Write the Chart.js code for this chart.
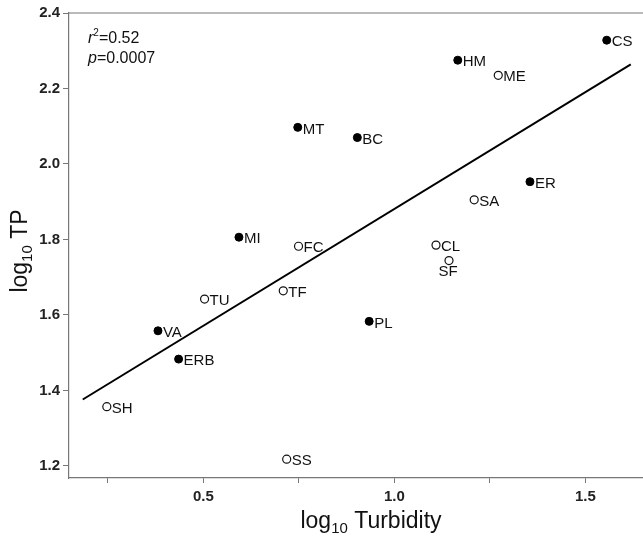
<!DOCTYPE html>
<html>
<head>
<meta charset="utf-8">
<title>log10 TP vs log10 Turbidity</title>
<script src="https://cdn.jsdelivr.net/npm/chart.js@4.4.1/dist/chart.umd.min.js"></script>
<style>
  html, body { margin: 0; padding: 0; background: #fff; }
  #wrap { width: 643px; height: 536px; position: relative; }
</style>
</head>
<body>
<div id="wrap"><canvas id="tpChart" width="643" height="536"></canvas></div>
<script>
// sites drawn as filled dots
const filledSites = ['CS', 'HM', 'ER', 'MT', 'BC', 'MI', 'PL', 'VA', 'ERB'];
const filledTurb  = [1.556, 1.166, 1.355, 0.747, 0.903, 0.593, 0.934, 0.381, 0.435];
const filledTP    = [2.328, 2.275, 1.953, 2.097, 2.070, 1.806, 1.583, 1.558, 1.483];

// sites drawn as open circles
const openSites = ['ME', 'SA', 'FC', 'CL', 'SF', 'TU', 'TF', 'SH', 'SS'];
const openTurb  = [1.272, 1.209, 0.749, 1.109, 1.143, 0.503, 0.709, 0.247, 0.718];
const openTP    = [2.235, 1.905, 1.782, 1.785, 1.744, 1.642, 1.664, 1.357, 1.218];

// regression line end points
const fitTurb = [0.184, 1.619];
const fitTP   = [1.376, 2.264];

// labels that sit under their marker instead of to the right
const labelsBelow = ['SF'];

const statLines = [['r', '=0.52'], ['p', '=0.0007']];

const xRange = [0.148, 1.651];
const yRange = [1.168, 2.4];
const xLabelTicks = [0.5, 1.0, 1.5];

const FONT = '"Liberation Sans", Arial, Helvetica, sans-serif';

function toPoints(xs, ys) {
    return xs.map((x, i) => ({ x: x, y: ys[i] }));
}

// draws "log" + subscript "10" + rest, centred on x
function drawLogText(ctx, rest, x, y, size) {
    const subSize = Math.round(size * 0.66);
    ctx.font = size + 'px ' + FONT;
    const w1 = ctx.measureText('log').width;
    const w3 = ctx.measureText(rest).width;
    ctx.font = subSize + 'px ' + FONT;
    const w2 = ctx.measureText('10').width;
    const total = w1 + w2 + w3;
    let cx = x - total / 2;
    ctx.textAlign = 'left';
    ctx.textBaseline = 'alphabetic';
    ctx.font = size + 'px ' + FONT;
    ctx.fillText('log', cx, y);
    cx += w1;
    ctx.font = subSize + 'px ' + FONT;
    ctx.fillText('10', cx, y + size * 0.2);
    cx += w2;
    ctx.font = size + 'px ' + FONT;
    ctx.fillText(rest, cx, y);
}

const siteLabels = {
    id: 'siteLabels',
    afterDatasetsDraw(chart) {
        const ctx = chart.ctx;
        ctx.save();
        ctx.fillStyle = '#111';
        ctx.font = '15px ' + FONT;
        [[0, filledSites], [1, openSites]].forEach(([idx, names]) => {
            chart.getDatasetMeta(idx).data.forEach((pt, j) => {
                const name = names[j];
                if (labelsBelow.includes(name)) {
                    ctx.textAlign = 'center';
                    ctx.textBaseline = 'middle';
                    ctx.fillText(name, pt.x - 1, pt.y + 11);
                } else {
                    ctx.textAlign = 'left';
                    ctx.textBaseline = 'middle';
                    ctx.fillText(name, pt.x + 5, pt.y + 2);
                }
            });
        });
        ctx.restore();
    }
};

const frameAndTitles = {
    id: 'frameAndTitles',
    afterDraw(chart) {
        const ctx = chart.ctx;
        const area = chart.chartArea;
        ctx.save();

        // top frame line
        ctx.strokeStyle = '#777';
        ctx.lineWidth = 1.2;
        ctx.beginPath();
        ctx.moveTo(area.left, area.top);
        ctx.lineTo(area.right, area.top);
        ctx.stroke();

        ctx.fillStyle = '#111';
        // x title
        drawLogText(ctx, ' Turbidity', (area.left + area.right) / 2 + 15, 528, 23);
        // y title
        ctx.save();
        ctx.translate(27, 251);
        ctx.rotate(-Math.PI / 2);
        drawLogText(ctx, ' TP', 0, 0, 23);
        ctx.restore();

        // r^2 and p values
        let y = area.top + 30;
        statLines.forEach(([v, rest], i) => {
            let x = area.left + 19;
            ctx.textAlign = 'left';
            ctx.textBaseline = 'alphabetic';
            ctx.font = 'italic 16px ' + FONT;
            ctx.fillText(v, x, y);
            x += ctx.measureText(v).width;
            if (i === 0) {
                ctx.font = '10px ' + FONT;
                ctx.fillText('2', x, y - 7);
                x += ctx.measureText('2').width;
            }
            ctx.font = '16px ' + FONT;
            ctx.fillText(rest, x, y);
            y += 20;
        });
        ctx.restore();
    }
};

const ctx = document.getElementById('tpChart').getContext('2d');
new Chart(ctx, {
    type: 'scatter',
    data: {
        datasets: [
            {
                label: 'filled',
                data: toPoints(filledTurb, filledTP),
                pointRadius: 4,
                pointBackgroundColor: '#000',
                pointBorderColor: '#000',
                pointBorderWidth: 1,
                order: 1
            },
            {
                label: 'open',
                data: toPoints(openTurb, openTP),
                pointRadius: 4,
                pointBackgroundColor: '#fff',
                pointBorderColor: '#111',
                pointBorderWidth: 1.2,
                order: 1
            },
            {
                label: 'fit',
                type: 'line',
                data: toPoints(fitTurb, fitTP),
                borderColor: '#000',
                borderWidth: 2,
                pointRadius: 0,
                fill: false,
                order: 2
            }
        ]
    },
    options: {
        responsive: false,
        animation: false,
        layout: { autoPadding: false, padding: { top: 13, right: 0, left: 0, bottom: 0 } },
        plugins: {
            legend: { display: false },
            tooltip: { enabled: false }
        },
        scales: {
            x: {
                type: 'linear',
                min: xRange[0],
                max: xRange[1],
                afterFit(scale) {
                    scale.height = 58;
                    scale.paddingLeft = 0;
                    scale.paddingRight = 0;
                },
                border: { display: true, color: '#777', width: 1.2 },
                grid: {
                    drawOnChartArea: false,
                    drawTicks: true,
                    tickLength: 5,
                    tickColor: '#777'
                },
                ticks: {
                    stepSize: 0.25,
                    includeBounds: false,
                    autoSkip: false,
                    maxRotation: 0,
                    padding: 5,
                    color: '#222',
                    font: { family: FONT, size: 15, weight: 'bold' },
                    callback(value) {
                        return xLabelTicks.some(t => Math.abs(t - value) < 1e-6) ? value.toFixed(1) : '';
                    }
                }
            },
            y: {
                type: 'linear',
                min: yRange[0],
                max: yRange[1],
                afterFit(scale) {
                    scale.width = 69;
                    scale.paddingTop = 0;
                    scale.paddingBottom = 0;
                },
                border: { display: true, color: '#777', width: 1.2 },
                grid: {
                    drawOnChartArea: false,
                    drawTicks: true,
                    tickLength: 6,
                    tickColor: '#777'
                },
                ticks: {
                    stepSize: 0.2,
                    includeBounds: false,
                    padding: 3,
                    color: '#222',
                    font: { family: FONT, size: 15, weight: 'bold' },
                    callback(value) { return value.toFixed(1); }
                }
            }
        }
    },
    plugins: [siteLabels, frameAndTitles]
});
</script>
</body>
</html>
